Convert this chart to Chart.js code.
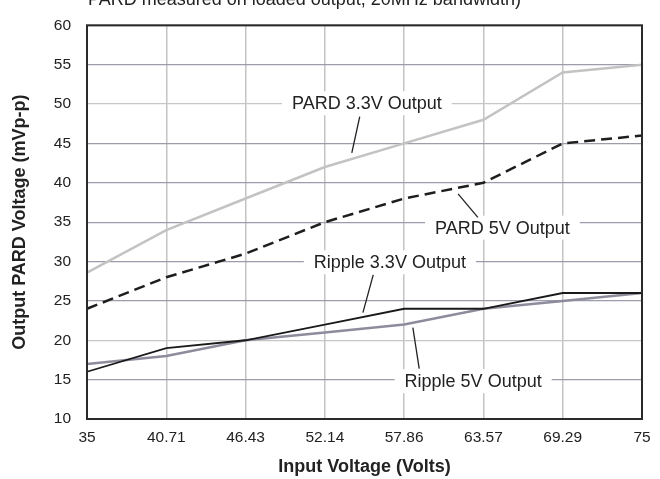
<!DOCTYPE html>
<html>
<head>
<meta charset="utf-8">
<script src="https://cdn.jsdelivr.net/npm/chart.js@4.4.1/dist/chart.umd.min.js"></script>
<style>
  html, body { margin: 0; padding: 0; background: #fff; }
  #wrap { width: 660px; height: 479px; position: relative; }
</style>
</head>
<body>
<div id="wrap"><canvas id="c" width="660" height="479"></canvas></div>
<script>
const xLabels = ["35", "40.71", "46.43", "52.14", "57.86", "63.57", "69.29", "75"];
const yTicks = [10, 15, 20, 25, 30, 35, 40, 45, 50, 55, 60];
const pard33 = [28.6, 34, 38, 42, 45, 48, 54, 55];
const pard5 = [24, 28, 31, 35, 38, 40, 45, 46];
const ripple33 = [16, 19, 20, 22, 24, 24, 26, 26];
const ripple5 = [17, 18, 20, 21, 22, 24, 25, 26];
const seriesNames = ["PARD 3.3V Output", "PARD 5V Output", "Ripple 3.3V Output", "Ripple 5V Output"];
const topNote = "PARD measured on loaded output, 20MHz bandwidth)";
const xTitle = "Input Voltage (Volts)";
const yTitle = "Output PARD Voltage (mVp-p)";

// callouts: [text, labelX(index), labelY(value), leaderFromX, leaderFromY, leaderToX, leaderToY]
const callouts = [
  [seriesNames[0], 3.53, 50.1, 3.44, 48.4, 3.34, 43.8],
  [seriesNames[1], 5.24, 34.3, 4.68, 38.6, 4.93, 35.6],
  [seriesNames[2], 3.82, 29.9, 3.61, 28.3, 3.48, 23.5],
  [seriesNames[3], 4.87, 14.8, 4.11, 21.6, 4.19, 16.4]
];

const FONT = "'Liberation Sans', Arial, Helvetica, sans-serif";

const calloutPlugin = {
  id: 'callouts',
  beforeDatasetsDraw(chart) {
    const ctx = chart.ctx;
    const xs = chart.scales.x, ys = chart.scales.y;
    ctx.save();
    ctx.font = "18px " + FONT;
    callouts.forEach(c => {
      const px = xs.getPixelForValue(c[1]);
      const py = ys.getPixelForValue(c[2]);
      const w = ctx.measureText(c[0]).width;
      ctx.fillStyle = '#fff';
      ctx.fillRect(px - w / 2 - 10, py - 12, w + 20, 24);
    });
    ctx.restore();
  },
  afterDatasetsDraw(chart) {
    const ctx = chart.ctx;
    const xs = chart.scales.x, ys = chart.scales.y;
    ctx.save();
    ctx.font = "18px " + FONT;
    ctx.textAlign = 'center';
    ctx.textBaseline = 'middle';
    ctx.fillStyle = '#222';
    ctx.strokeStyle = '#222';
    ctx.lineWidth = 1.3;
    callouts.forEach(c => {
      const px = xs.getPixelForValue(c[1]);
      const py = ys.getPixelForValue(c[2]);
      ctx.fillText(c[0], px, py + 1);
      ctx.beginPath();
      ctx.moveTo(xs.getPixelForValue(c[3]), ys.getPixelForValue(c[4]));
      ctx.lineTo(xs.getPixelForValue(c[5]), ys.getPixelForValue(c[6]));
      ctx.stroke();
    });
    const a = chart.chartArea;
    ctx.strokeStyle = '#2a2a2a';
    ctx.lineWidth = 2;
    ctx.strokeRect(a.left, a.top, a.right - a.left, a.bottom - a.top);
    ctx.font = "18px " + FONT;
    ctx.textAlign = 'left';
    ctx.textBaseline = 'alphabetic';
    ctx.fillStyle = '#222';
    ctx.fillText(topNote, 88, 5);
    ctx.restore();
  }
};

new Chart(document.getElementById('c'), {
  type: 'line',
  data: {
    labels: xLabels,
    datasets: [
      { label: seriesNames[0], data: pard33, borderColor: '#c3c3c3', borderWidth: 2.5, pointRadius: 0, tension: 0, fill: false },
      { label: seriesNames[1], data: pard5, borderColor: '#1e1e1e', borderWidth: 2.5, borderDash: [11, 6], pointRadius: 0, tension: 0, fill: false },
      { label: seriesNames[2], data: ripple33, borderColor: '#1a1a1a', borderWidth: 1.8, pointRadius: 0, tension: 0, fill: false },
      { label: seriesNames[3], data: ripple5, borderColor: '#8c8c9c', borderWidth: 2.5, pointRadius: 0, tension: 0, fill: false }
    ]
  },
  options: {
    responsive: false,
    animation: false,
    devicePixelRatio: 1,
    layout: { padding: { left: 0, right: 18, top: 15, bottom: 0 } },
    plugins: { legend: { display: false }, tooltip: { enabled: false } },
    scales: {
      x: {
        type: 'category',
        offset: false,
        grid: { color: '#c4c4c4', lineWidth: 1.5, drawTicks: false },
        border: { display: false },
        ticks: { color: '#222', font: { family: FONT, size: 15.5 }, padding: 9, maxRotation: 0, autoSkip: false },
        title: { display: true, text: xTitle, color: '#222', font: { family: FONT, size: 18, weight: 'bold' }, padding: { top: 4, bottom: 1 } },
        afterFit(s) { s.height = 60; }
      },
      y: {
        min: 10, max: 60,
        afterBuildTicks(s) { s.ticks = yTicks.map(v => ({ value: v })); },
        grid: {
          color: ctx => (ctx.tick && (ctx.tick.value === 20 || ctx.tick.value === 50)) ? '#c6c6c6' : '#9c9cac',
          lineWidth: 1.2, drawTicks: false
        },
        border: { display: false },
        ticks: { color: '#222', font: { family: FONT, size: 15.5 }, padding: 16 },
        title: { display: true, text: yTitle, color: '#222', font: { family: FONT, size: 18, weight: 'bold' }, padding: { top: 9, bottom: 0 } },
        afterFit(s) { s.width = 87; }
      }
    }
  },
  plugins: [calloutPlugin]
});
</script>
</body>
</html>
